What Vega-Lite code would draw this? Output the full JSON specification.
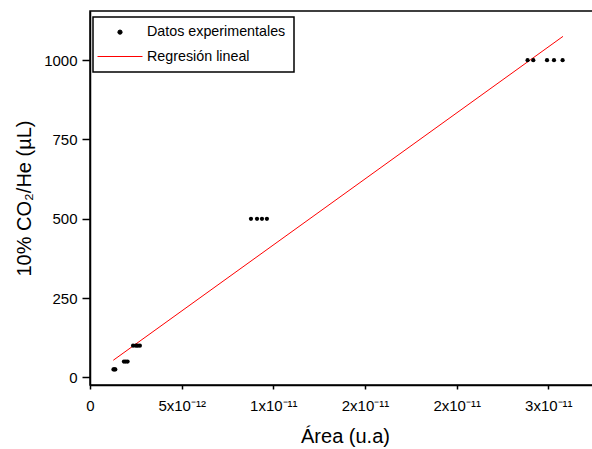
{
  "$schema": "https://vega.github.io/schema/vega-lite/v6.json",
  "width": 510,
  "height": 374,
  "autosize": {"type": "none"},
  "padding": {"left": 90, "top": 11, "right": 0, "bottom": 64},
  "config": {
    "font": "Liberation Sans",
    "view": {"stroke": "black", "strokeWidth": 1.5},
    "axis": {
      "grid": false,
      "domainColor": "black",
      "domainWidth": 1.5,
      "tickColor": "black",
      "tickWidth": 1.5,
      "labelColor": "black",
      "titleColor": "black",
      "labelFont": "Liberation Sans",
      "titleFont": "Liberation Sans",
      "labelFontSize": 15,
      "titleFontSize": 20,
      "titleFontWeight": "normal"
    }
  },
  "datasets": {
    "puntos": [
      {"area": 1.28e-12, "vol": 25, "serie": "Datos experimentales"},
      {"area": 1.33e-12, "vol": 25, "serie": "Datos experimentales"},
      {"area": 1.38e-12, "vol": 25, "serie": "Datos experimentales"},
      {"area": 1.85e-12, "vol": 50, "serie": "Datos experimentales"},
      {"area": 1.95e-12, "vol": 50, "serie": "Datos experimentales"},
      {"area": 2.05e-12, "vol": 50, "serie": "Datos experimentales"},
      {"area": 2.35e-12, "vol": 100, "serie": "Datos experimentales"},
      {"area": 2.5e-12, "vol": 100, "serie": "Datos experimentales"},
      {"area": 2.6e-12, "vol": 100, "serie": "Datos experimentales"},
      {"area": 2.72e-12, "vol": 100, "serie": "Datos experimentales"},
      {"area": 8.78e-12, "vol": 500, "serie": "Datos experimentales"},
      {"area": 9.11e-12, "vol": 500, "serie": "Datos experimentales"},
      {"area": 9.38e-12, "vol": 500, "serie": "Datos experimentales"},
      {"area": 9.65e-12, "vol": 500, "serie": "Datos experimentales"},
      {"area": 2.387e-11, "vol": 1000, "serie": "Datos experimentales"},
      {"area": 2.418e-11, "vol": 1000, "serie": "Datos experimentales"},
      {"area": 2.493e-11, "vol": 1000, "serie": "Datos experimentales"},
      {"area": 2.531e-11, "vol": 1000, "serie": "Datos experimentales"},
      {"area": 2.578e-11, "vol": 1000, "serie": "Datos experimentales"}
    ],
    "recta": [
      {"area": 1.27e-12, "vol": 54, "serie": "Regresión lineal"},
      {"area": 2.58e-11, "vol": 1075, "serie": "Regresión lineal"}
    ]
  },
  "encoding": {
    "x": {
      "field": "area",
      "type": "quantitative",
      "title": "Área (u.a)",
      "scale": {"domain": [0, 2.782e-11], "nice": false, "zero": false},
      "axis": {
        "values": [0, 5e-12, 1e-11, 1.5e-11, 2e-11, 2.5e-11],
        "labelExpr": "datum.value < 1e-13 ? '0' : datum.value < 7e-12 ? '5x10⁻¹²' : datum.value < 1.2e-11 ? '1x10⁻¹¹' : datum.value < 2.2e-11 ? '2x10⁻¹¹' : '3x10⁻¹¹'",
        "tickSize": 4,
        "labelPadding": 9,
        "titlePadding": 13,
        "labelFlush": false,
        "labelOverlap": false
      }
    },
    "y": {
      "field": "vol",
      "type": "quantitative",
      "title": "10% CO₂/He (µL)",
      "scale": {"domain": [-24, 1155], "nice": false, "zero": false},
      "axis": {
        "values": [0, 250, 500, 750, 1000],
        "format": "d",
        "tickSize": 8,
        "labelPadding": 5,
        "titlePadding": 9
      }
    },
    "color": {
      "field": "serie",
      "type": "nominal",
      "scale": {"domain": ["Datos experimentales", "Regresión lineal"], "range": ["black", "red"]},
      "legend": {
        "title": null,
        "orient": "none",
        "legendX": 3,
        "legendY": 6,
        "strokeColor": "black",
        "padding": 8,
        "rowPadding": 6,
        "labelFontSize": 14.3,
        "labelColor": "black",
        "labelOffset": 16.5,
        "symbolOffset": 8.5,
        "symbolOpacity": 1,
        "symbolStrokeWidth": 1,
        "encode": {
          "legend": {"update": {"strokeWidth": {"value": 1.5}}},
          "symbols": {"update": {"stroke": {"scale": "color", "field": "value"}}}
        }
      }
    }
  },
  "layer": [
    {
      "data": {"name": "recta"},
      "mark": {"type": "line", "strokeWidth": 1, "clip": true}
    },
    {
      "data": {"name": "puntos"},
      "mark": {"type": "point", "filled": true, "opacity": 1},
      "encoding": {
        "shape": {
          "field": "serie",
          "type": "nominal",
          "scale": {"domain": ["Datos experimentales", "Regresión lineal"], "range": ["circle", "M-2.25,0H2.25"]},
          "legend": null
        },
        "size": {
          "field": "serie",
          "type": "nominal",
          "scale": {"domain": ["Datos experimentales", "Regresión lineal"], "range": [18, 400]},
          "legend": null
        }
      }
    }
  ]
}
